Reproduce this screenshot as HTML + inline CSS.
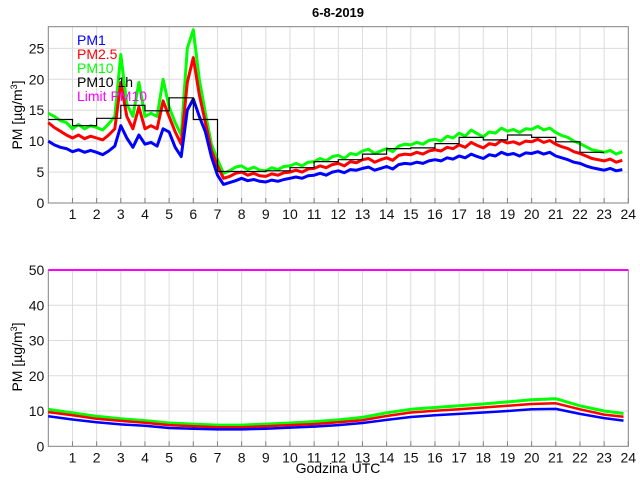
<!DOCTYPE html>
<html><head><meta charset="utf-8"><style>
body{margin:0;background:#fff;}
svg{display:block;font-family:"Liberation Sans",sans-serif;}
</style></head><body>
<svg id="chart" width="640" height="480" xmlns="http://www.w3.org/2000/svg">
<text x="338" y="17" font-size="13" font-weight="bold" text-anchor="middle">6-8-2019</text>
<text x="338" y="473" font-size="14" text-anchor="middle">Godzina UTC</text>
<text transform="translate(22,115) rotate(-90)" font-size="14" text-anchor="middle">PM [µg/m<tspan dy="-5" font-size="9">3</tspan><tspan dy="5">]</tspan></text>
<text transform="translate(22,357) rotate(-90)" font-size="14" text-anchor="middle">PM [µg/m<tspan dy="-5" font-size="9">3</tspan><tspan dy="5">]</tspan></text>
<g id="topPlot"></g>
<g id="botPlot"></g>
<g font-size="14">
<text x="77" y="45" fill="#0000ff">PM1</text>
<text x="77" y="59" fill="#ff0000">PM2.5</text>
<text x="77" y="73" fill="#00ff00">PM10</text>
<text x="77" y="87" fill="#000000">PM10 1h</text>
<text x="77" y="101" fill="#ff00ff">Limit PM10</text>
</g>
</svg>
<script>
const xTicks=[1,2,3,4,5,6,7,8,9,10,11,12,13,14,15,16,17,18,19,20,21,22,23,24];
const topYTicks=[0,5,10,15,20,25];
const botYTicks=[0,10,20,30,40,50];
const pm1=[10.0,9.4,9.0,8.8,8.3,8.6,8.2,8.5,8.2,7.8,8.4,9.2,12.5,10.5,9.0,11.0,9.5,9.8,9.2,12.0,11.5,9.0,7.5,15.0,16.8,14.0,11.5,7.5,4.5,3.0,3.3,3.6,4.0,3.6,3.8,3.5,3.4,3.7,3.5,3.8,4.0,4.2,4.0,4.4,4.5,4.8,4.5,5.0,5.2,4.9,5.4,5.3,5.6,5.8,5.3,5.6,5.9,5.5,6.2,6.4,6.3,6.6,6.4,6.8,7.0,6.8,7.3,7.1,7.6,7.3,7.9,7.5,7.2,7.8,7.6,8.2,7.8,8.0,7.6,8.1,8.0,8.3,7.9,8.2,7.6,7.3,7.0,6.6,6.4,6.0,5.7,5.5,5.3,5.6,5.2,5.4];
const pm25=[13.0,12.2,11.6,11.0,10.5,11.0,10.4,10.8,10.5,10.2,11.0,12.0,19.5,14.0,12.0,15.5,12.0,12.5,12.0,16.5,14.0,11.5,9.5,19.5,23.5,17.5,13.0,8.5,6.0,4.0,4.3,4.8,5.0,4.5,4.8,4.4,4.3,4.7,4.5,4.9,5.0,5.3,5.0,5.5,5.6,6.0,5.7,6.2,6.4,6.0,6.7,6.5,7.0,7.2,6.6,7.0,7.3,6.9,7.7,7.9,7.8,8.2,7.9,8.4,8.6,8.4,9.0,8.8,9.4,9.0,9.8,9.3,8.9,9.6,9.4,10.1,9.7,9.9,9.5,10.0,9.9,10.3,9.8,10.1,9.5,9.1,8.8,8.3,8.0,7.6,7.2,7.0,6.8,7.1,6.6,6.9];
const pm10=[14.5,14.0,13.3,13.0,12.0,12.7,12.0,12.5,12.2,11.8,12.8,14.0,24.0,16.0,14.0,19.5,14.0,14.5,14.0,20.0,15.5,13.0,11.0,25.0,28.0,20.0,14.5,9.5,7.0,4.8,5.2,5.8,6.0,5.4,5.8,5.3,5.2,5.7,5.4,5.9,6.0,6.4,6.0,6.6,6.7,7.2,6.8,7.5,7.7,7.2,8.0,7.8,8.4,8.7,8.0,8.4,8.8,8.3,9.2,9.5,9.4,9.8,9.5,10.1,10.3,10.0,10.8,10.5,11.3,10.8,11.8,11.2,10.7,11.5,11.3,12.1,11.6,11.9,11.4,12.0,11.9,12.4,11.8,12.1,11.4,10.9,10.6,10.0,9.6,9.1,8.6,8.4,8.2,8.5,7.9,8.3];
const pm10h=[13.5,12.5,13.7,15.8,14.9,17.0,13.5,5.1,5.1,5.2,5.7,6.7,7.0,7.9,8.8,8.9,9.6,10.6,10.2,11.0,10.6,9.9,8.2];
const botHours=[0,1,2,3,4,5,6,7,8,9,10,11,12,13,14,15,16,17,18,19,20,21,22,23,23.8];
const botPm10=[10.5,9.5,8.5,7.8,7.3,6.6,6.3,6.0,6.0,6.3,6.6,7.0,7.5,8.2,9.5,10.5,11.0,11.5,12.0,12.6,13.2,13.5,11.5,10.0,9.3];
const botPm25=[9.7,8.8,7.8,7.2,6.7,6.0,5.7,5.4,5.4,5.7,6.0,6.3,6.8,7.4,8.6,9.6,10.1,10.5,11.0,11.5,12.0,12.2,10.5,9.0,8.4];
const botPm1=[8.5,7.6,6.8,6.2,5.8,5.2,5.0,4.8,4.8,5.0,5.3,5.6,6.0,6.6,7.5,8.3,8.8,9.2,9.6,10.0,10.5,10.6,9.2,8.0,7.3];
const limitPm10=[50,50];

const NS="http://www.w3.org/2000/svg";
const X0=48.3,X1=628.3,XMAX=24;
function xs(h){return X0+(X1-X0)*h/XMAX;}
function mk(tag,attrs,parent){const e=document.createElementNS(NS,tag);for(const k in attrs)e.setAttribute(k,attrs[k]);parent.appendChild(e);return e;}

function axes(g,yTop,yBot,ymax,yticks,prefix){
  const ys=v=>yBot-(yBot-yTop)*v/ymax;
  for(const t of xTicks){ if(t>=24)continue;
    const l=mk('line',{x1:xs(t),x2:xs(t),y1:yTop,y2:yBot,stroke:'#dcdcdc','stroke-width':1},g);
    
    
  }
  for(const t of yticks){ if(t===0||t>=ymax)continue;
    const l=mk('line',{x1:X0,x2:X1,y1:ys(t),y2:ys(t),stroke:'#dcdcdc','stroke-width':1},g);
    
    
  }
  const b=mk('rect',{x:X0,y:yTop,width:X1-X0,height:yBot-yTop,fill:'none',stroke:'#808080','stroke-width':1},g);
  
  
  for(const t of xTicks){
    const tk=mk('line',{x1:xs(t),x2:xs(t),y1:yBot,y2:yBot-5,stroke:'#808080'},g);
    
    
    const tx=mk('text',{x:xs(t),y:yBot+16,'font-size':14,'text-anchor':'middle',fill:'#111'},g);
    tx.textContent=t;
    
    
  }
  for(const t of yticks){
    const tx=mk('text',{x:X0-4,y:ys(t)+5,'font-size':14,'text-anchor':'end',fill:'#111'},g);
    tx.textContent=t;
    
    
  }
  return ys;
}
function series(g,xsArr,vals,ys,color,w,name){
  const d=vals.map((v,i)=>(i?'L':'M')+xs(xsArr[i]).toFixed(1)+','+ys(v).toFixed(1)).join('');
  const p=mk('path',{d:d,fill:'none',stroke:color,'stroke-width':w,'stroke-linejoin':'round'},g);
  
  
}
const topG=document.getElementById('topPlot');
const ysT=axes(topG,26.7,203,28.5,topYTicks,'top');
const qh=pm10.map((v,i)=>i/4);
series(topG,qh,pm10,ysT,'#00ff00',3,'top-pm10-line');
series(topG,qh,pm25,ysT,'#ff0000',3,'top-pm25-line');
series(topG,qh,pm1,ysT,'#0000ff',3,'top-pm1-line');
let sd='';
pm10h.forEach((v,i)=>{sd+=(i?'L':'M')+xs(i).toFixed(1)+','+ysT(v).toFixed(1)+'L'+xs(i+1).toFixed(1)+','+ysT(v).toFixed(1);});
const st=mk('path',{d:sd,fill:'none',stroke:'#000','stroke-width':1.2},topG);



const botG=document.getElementById('botPlot');
const ysB=axes(botG,270,446.3,50,botYTicks,'bottom');
series(botG,botHours,botPm10,ysB,'#00ff00',3,'bottom-pm10-line');
series(botG,botHours,botPm25,ysB,'#ff0000',2.5,'bottom-pm25-line');
series(botG,botHours,botPm1,ysB,'#0000ff',2.5,'bottom-pm1-line');
series(botG,[0,24],limitPm10,ysB,'#ff00ff',2,'bottom-limit-pm10-line');
</script>
</body></html>
